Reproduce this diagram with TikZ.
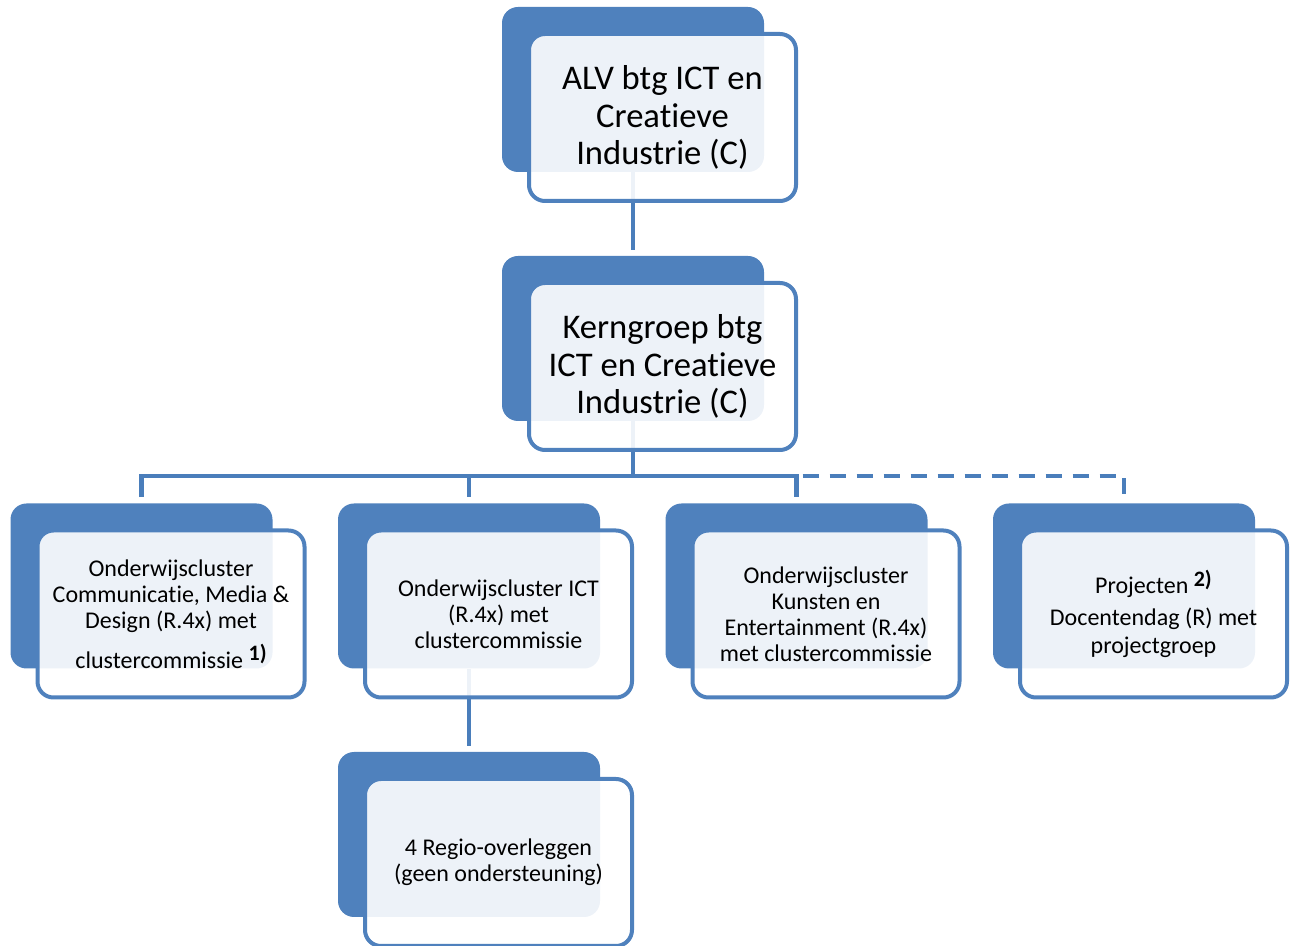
\documentclass[tikz,border=0pt]{standalone}
\usepackage{fontspec}
\setmainfont{Carlito}[Ligatures=NoCommon]
\definecolor{boxblue}{RGB}{79,129,189}
\definecolor{linkblue}{RGB}{74,126,187}
\newcommand{\noot}[1]{\raisebox{0.3em}{\bfseries\fontsize{11}{11}\selectfont #1)}}
\tikzset{
  backbox/.style={fill=boxblue, rounded corners=8pt, minimum width=131pt, minimum height=82.5pt, inner sep=0pt},
  frontbox/.style={draw=boxblue, line width=2pt, fill=white, fill opacity=0.9, text opacity=1, rounded corners=8pt,
    minimum width=133.5pt, minimum height=83.5pt, inner sep=2pt, align=center},
  bigtext/.style={font=\fontsize{17.3}{18.8}\selectfont},
  smalltext/.style={font=\fontsize{12}{13}\selectfont},
  link/.style={draw=linkblue, line width=2.2pt}
}

\begin{document}
\begin{tikzpicture}[x=0.5pt,y=-0.5pt]
\useasboundingbox (0,0) rectangle (1298,946);
\node[backbox] (alvback) at (633,89.5) {};
\node[backbox] (kernback) at (633,338.5) {};
\node[backbox] (cmdback) at (141.5,586) {};
\node[backbox] (ictback) at (469,586) {};
\node[backbox] (kaeback) at (796.5,586) {};
\node[backbox] (projback) at (1124,586) {};
\node[backbox] (regioback) at (469,834.5) {};

\coordinate (bus) at (633,476);
\draw[link, shorten >=3pt] (alvback.south) -- (kernback.north);
\draw[link] (kernback.south) -- (bus);
\draw[link, shorten <=3pt, shorten >=3pt] (cmdback.north) -- (cmdback.north |- bus) -- (kaeback.north |- bus) -- (kaeback.north);
\draw[link, shorten >=3pt] (ictback.north |- bus) -- (ictback.north);
\draw[link, line width=2pt, dash pattern=on 8pt off 5.5pt, dash phase=10.5pt, shorten >=3pt] (kaeback.north |- bus) -| (projback.north);
\draw[link, shorten >=3pt] (ictback.south) -- (regioback.north);

\node[frontbox, bigtext] (alv) at ([shift={(29.5,28)}]alvback.center) {ALV btg ICT en\\ Creatieve\\ Industrie (C)};
\node[frontbox, bigtext] (kern) at ([shift={(29.5,28)}]kernback.center) {Kerngroep btg\\ ICT en Creatieve\\ Industrie (C)};
\node[frontbox, smalltext] (cmd) at ([shift={(29.5,28)}]cmdback.center) {Onderwijscluster\\ Communicatie, Media \&\\ Design (R.4x) met\\[5pt] clustercommissie \noot{1}};
\node[frontbox, smalltext] (ict) at ([shift={(29.5,28)}]ictback.center) {Onderwijscluster ICT\\ (R.4x) met\\ clustercommissie};
\node[frontbox, smalltext] (kae) at ([shift={(29.5,28)}]kaeback.center) {Onderwijscluster\\ Kunsten en\\ Entertainment (R.4x)\\ met clustercommissie};
\node[frontbox, smalltext] (proj) at ([shift={(29.5,28)}]projback.center) {Projecten \noot{2}\\[3pt] Docentendag (R) met\\[1pt] projectgroep};
\node[frontbox, smalltext] (regio) at ([shift={(29.5,28)}]regioback.center) {4 Regio-overleggen\\ (geen ondersteuning)};
\end{tikzpicture}
\end{document}
